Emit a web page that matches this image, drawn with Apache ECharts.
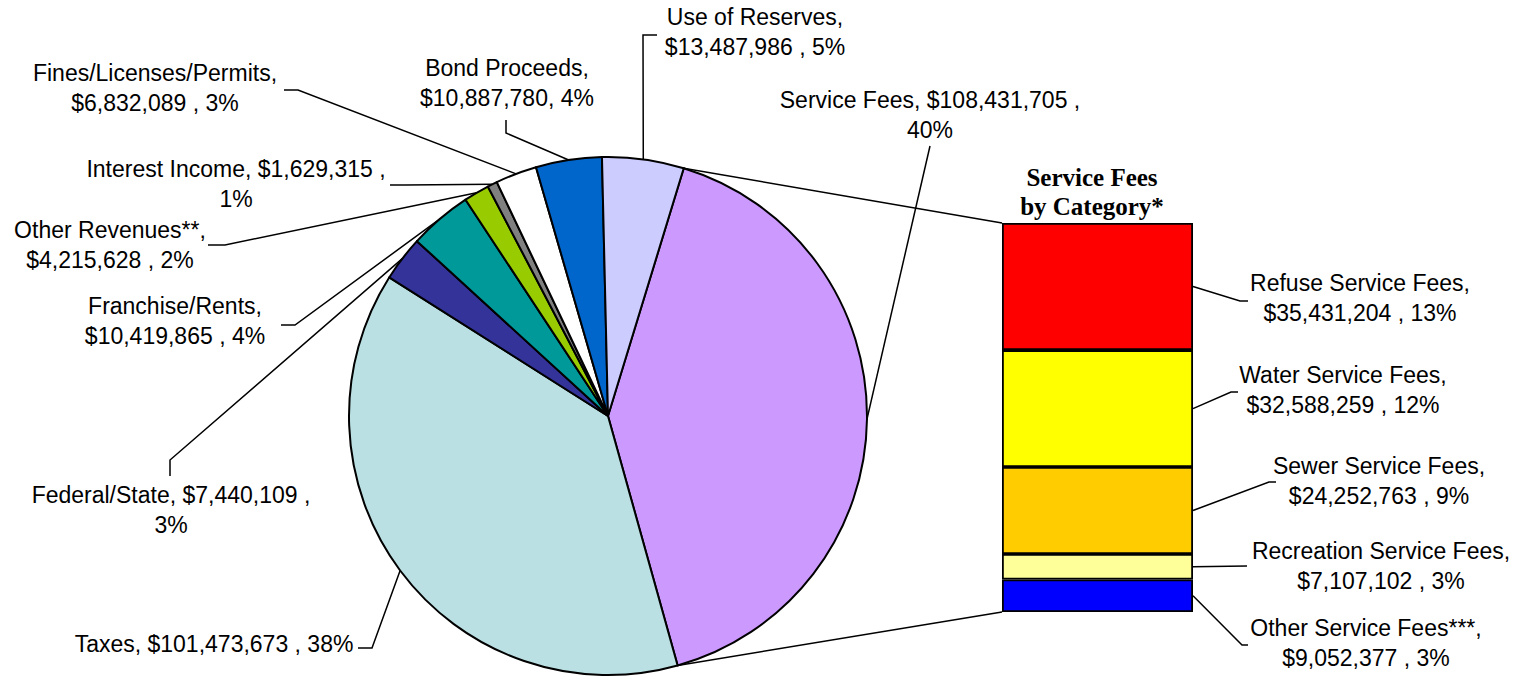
<!DOCTYPE html>
<html><head><meta charset="utf-8">
<script src="https://cdn.jsdelivr.net/npm/echarts@6/dist/echarts.min.js"></script>
<style>html,body{margin:0;padding:0;background:#fff}#c{width:1520px;height:678px}</style>
</head><body><div id="c"></div>
<script>
// ---------------- data ----------------
const pieCategories = ['Service Fees', 'Taxes', 'Federal/State', 'Franchise/Rents', 'Other Revenues**',
  'Interest Income', 'Fines/Licenses/Permits', 'Bond Proceeds', 'Use of Reserves'];
const pieValues = [108431705, 101473673, 7440109, 10419865, 4215628, 1629315, 6832089, 10887780, 13487986];
const feeCategories = ['Refuse Service Fees', 'Water Service Fees', 'Sewer Service Fees',
  'Recreation Service Fees', 'Other Service Fees***'];
const feeValues = [35431204, 32588259, 24252763, 7107102, 9052377];
const chartTitle = 'Service Fees\nby Category*';

// ---------------- layout / style ----------------
const PIE_CENTER = [608, 416], PIE_R = 259, START = 73;
const GRID = {left: 1002, top: 223, width: 191, height: 389};
const pieColors = ['#CC99FF', '#BBE0E3', '#333399', '#009999', '#99CC00', '#808080', '#FFFFFF', '#0066CC', '#CCCCFF'];
const feeColors = ['#FF0000', '#FFFF00', '#FFCC00', '#FFFF99', '#0000FF'];
const pieLabelLayout = [
  {x: 930, y: 115, br: 'value', lead: [[930, 146]]},
  {x: 214, y: 644, br: 'none', lead: [[358, 648], [372, 648]]},
  {x: 171, y: 510, br: 'value', lead: [[170, 476], [170, 460]]},
  {x: 175, y: 321, br: 'name', lead: [[281, 325], [295, 325]]},
  {x: 110, y: 245, br: 'name', lead: [[208, 245], [225, 245]]},
  {x: 236, y: 184, br: 'value', lead: [[390, 185], [405, 185]]},
  {x: 155, y: 88, br: 'name', lead: [[284, 90], [298, 90]]},
  {x: 507, y: 83, br: 'name', tight: true, lead: [[506, 120], [506, 133]]},
  {x: 755, y: 32, br: 'name', lead: [[657, 35], [643, 35]]}
];
const feeLabelLayout = [
  {x: 1360, y: 298, lead: [[1248, 301], [1240, 301]]},
  {x: 1343, y: 390, lead: [[1238, 392], [1231, 392]]},
  {x: 1379, y: 481, lead: [[1276, 482], [1269, 482]]},
  {x: 1381, y: 566, lead: [[1247, 566]]},
  {x: 1366, y: 643, lead: [[1248, 645], [1242, 645]]}
];
const labelFont = {color: '#000', fontFamily: 'Liberation Sans', fontSize: 23, lineHeight: 30};

// ---------------- helpers ----------------
const sum = a => a.reduce((s, v) => s + v, 0);
const grand = sum(pieValues);
const feeTotal = sum(feeValues);
const feePct = feeValues.map(v => Math.round(v / grand * 100));
// the aggregate slice shows the sum of its rounded parts (as the source does)
const piePct = pieValues.map((v, i) => i === 0 ? sum(feePct) : Math.round(v / grand * 100));

function fmt(name, value, pct, br, tight) {
  const v = '$' + value.toLocaleString('en-US');
  const a = br === 'name' ? '\n' : ' ';
  const b = br === 'value' ? '\n' : ' ';
  return name + ',' + a + v + (tight ? ',' : ' ,') + b + pct + '%';
}

const chart = echarts.init(document.getElementById('c'), null, {renderer: 'svg'});

const barSeries = feeCategories.map((n, i) => ({
  type: 'bar', name: n, stack: 'fees', barWidth: '100%',
  data: [feeValues[i]],
  itemStyle: {color: feeColors[i], borderColor: '#000', borderWidth: 1.8},
  label: Object.assign({show: true, position: 'inside', align: 'center',
    formatter: () => fmt(n, feeValues[i], feePct[i], 'name', false)}, labelFont),
  labelLine: {show: false},
  labelLayout: {x: feeLabelLayout[i].x, y: feeLabelLayout[i].y, align: 'center', verticalAlign: 'middle'},
  emphasis: {disabled: true}
})).reverse();

chart.setOption({
  animation: false,
  backgroundColor: '#fff',
  grid: GRID,
  xAxis: {type: 'category', data: ['Service Fees'], show: false},
  yAxis: {type: 'value', min: 0, max: feeTotal, show: false},
  series: [{
    type: 'pie', center: PIE_CENTER, radius: PIE_R, startAngle: START, clockwise: true,
    avoidLabelOverlap: false,
    data: pieCategories.map((n, i) => ({name: n, value: pieValues[i], itemStyle: {color: pieColors[i]}})),
    itemStyle: {borderColor: '#000', borderWidth: 2},
    label: Object.assign({show: true, align: 'center',
      formatter: p => fmt(p.name, p.value, piePct[p.dataIndex], pieLabelLayout[p.dataIndex].br, pieLabelLayout[p.dataIndex].tight)}, labelFont),
    labelLine: {show: false},
    labelLayout: p => ({x: pieLabelLayout[p.dataIndex].x, y: pieLabelLayout[p.dataIndex].y, align: 'center', verticalAlign: 'middle'}),
    emphasis: {disabled: true}
  }].concat(barSeries)
});

// ---------------- leader & connector lines ----------------
const rad = d => d * Math.PI / 180;
const piePoint = deg => [PIE_CENTER[0] + PIE_R * Math.sin(rad(deg)), PIE_CENTER[1] - PIE_R * Math.cos(rad(deg))];
const startTop = 90 - START;
let acc = 0;
const mids = [];
pieValues.forEach(v => { const span = v / grand * 360; mids.push(startTop + acc + span / 2); acc += span; });
const sfEnd = startTop + pieValues[0] / grand * 360;

const toPx = v => chart.convertToPixel({gridIndex: 0}, [0, v]);
const barRight = GRID.left + GRID.width;
const lineStyle = {stroke: '#000', lineWidth: 1.5, fill: null};
const graphics = [];
pieLabelLayout.forEach((l, i) => {
  graphics.push({type: 'polyline', silent: true, shape: {points: l.lead.concat([piePoint(mids[i])])}, style: lineStyle});
});
let cursor = feeTotal;
feeValues.forEach((v, i) => {
  const y = toPx(cursor - v / 2)[1];
  cursor -= v;
  graphics.push({type: 'polyline', silent: true, shape: {points: feeLabelLayout[i].lead.concat([[barRight, y]])}, style: lineStyle});
});
const pa = piePoint(startTop), pb = piePoint(sfEnd);
graphics.push({type: 'line', silent: true, shape: {x1: pa[0], y1: pa[1], x2: GRID.left, y2: toPx(feeTotal)[1]}, style: lineStyle});
graphics.push({type: 'line', silent: true, shape: {x1: pb[0], y1: pb[1], x2: GRID.left, y2: toPx(0)[1]}, style: lineStyle});
graphics.push({type: 'text', x: 1092, y: 192, silent: true,
  style: {text: chartTitle, align: 'center', verticalAlign: 'middle', fontFamily: 'Liberation Serif',
    fontWeight: 'bold', fontSize: 25, lineHeight: 29, fill: '#000'}});
chart.setOption({graphic: graphics});
</script>
</body></html>
